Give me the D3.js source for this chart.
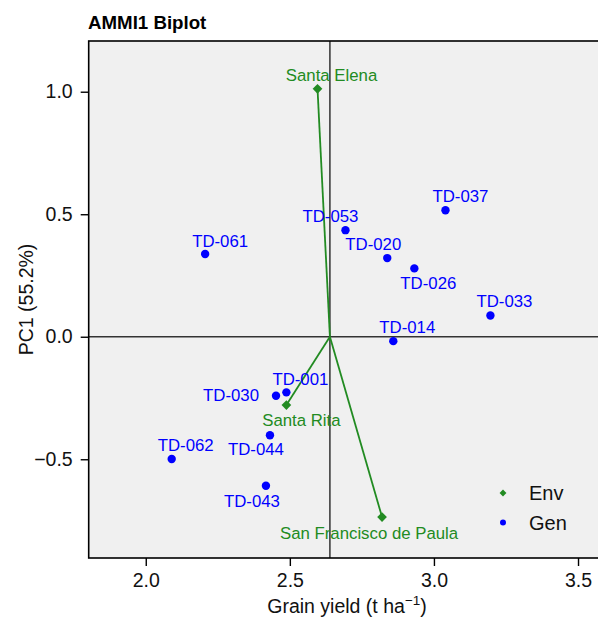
<!DOCTYPE html>
<html>
<head>
<meta charset="utf-8">
<script src="https://cdn.jsdelivr.net/npm/d3@7"></script>
<style>
  html, body { margin: 0; padding: 0; background: #fff; }
  svg { display: block; font-family: "Liberation Sans", Arial, Helvetica, sans-serif; }
</style>
</head>
<body>
<svg id="chart" width="598" height="619"></svg>
<script>
// Genotypes: mean grain yield (t/ha) and PC1 score
const genNames = ["TD-061", "TD-053", "TD-037", "TD-020", "TD-026", "TD-033", "TD-014",
                  "TD-001", "TD-030", "TD-062", "TD-044", "TD-043"];
const genYield = [2.206, 2.693, 3.040, 2.838, 2.932, 3.196, 2.859,
                  2.488, 2.452, 2.090, 2.431, 2.417];
const genPC1   = [0.338, 0.435, 0.516, 0.321, 0.279, 0.087, -0.018,
                  -0.227, -0.241, -0.499, -0.402, -0.608];

// Environments: mean grain yield (t/ha) and PC1 score
const envNames = ["Santa Elena", "Santa Rita", "San Francisco de Paula"];
const envYield = [2.596, 2.488, 2.820];
const envPC1   = [1.012, -0.279, -0.736];

// Grand mean yield (origin of the environment vectors)
const grandMean = 2.639;

const xTicks = [2.0, 2.5, 3.0, 3.5];
const yTicks = [-0.5, 0.0, 0.5, 1.0];

// Label placement around each point (pixels)
const labelNudge = {
  "TD-061": [15, -13], "TD-053": [-15, -14], "TD-037": [15, -14], "TD-020": [-14, -14],
  "TD-026": [14, 15], "TD-033": [14, -14], "TD-014": [14, -14], "TD-001": [14, -13],
  "TD-030": [-45, -1], "TD-062": [14, -14], "TD-044": [-14, 14], "TD-043": [-14, 15],
  "Santa Elena": [14, -14], "Santa Rita": [15, 15], "San Francisco de Paula": [-13, 16]
};

const GEN_COLOR = "#0000FF";
const ENV_COLOR = "#228B22";

const genData = genNames.map((n, i) => ({ name: n, x: genYield[i], y: genPC1[i] }));
const envData = envNames.map((n, i) => ({ name: n, x: envYield[i], y: envPC1[i] }));

const svg = d3.select("#chart");
const panel = { left: 88.7, right: 600.5, top: 41, bottom: 558 };

const x = d3.scaleLinear().domain([1.802, 3.578]).range([panel.left, panel.right]);
const y = d3.scaleLinear().domain([-0.903, 1.207]).range([panel.bottom, panel.top]);

// Panel background
svg.append("rect")
  .attr("x", panel.left).attr("y", panel.top)
  .attr("width", panel.right - panel.left).attr("height", panel.bottom - panel.top)
  .attr("fill", "#F0F0F0");

// Reference lines: PC1 = 0 and grand mean
svg.append("line")
  .attr("x1", panel.left).attr("x2", panel.right)
  .attr("y1", y(0)).attr("y2", y(0))
  .attr("stroke", "#333").attr("stroke-width", 1.5);
svg.append("line")
  .attr("x1", x(grandMean)).attr("x2", x(grandMean))
  .attr("y1", panel.top).attr("y2", panel.bottom)
  .attr("stroke", "#333").attr("stroke-width", 1.5);

// Environment vectors from the origin
svg.append("g").selectAll("line").data(envData).join("line")
  .attr("x1", x(grandMean)).attr("y1", y(0))
  .attr("x2", d => x(d.x)).attr("y2", d => y(d.y))
  .attr("stroke", ENV_COLOR).attr("stroke-width", 1.8);

// Genotype points
svg.append("g").selectAll("circle").data(genData).join("circle")
  .attr("cx", d => x(d.x)).attr("cy", d => y(d.y)).attr("r", 4.2)
  .attr("fill", GEN_COLOR);

// Environment points (diamonds)
const diamond = d3.symbol().type(d3.symbolDiamond2).size(60);
svg.append("g").selectAll("path").data(envData).join("path")
  .attr("transform", d => `translate(${x(d.x)},${y(d.y)})`)
  .attr("d", diamond)
  .attr("fill", ENV_COLOR);

// Point labels
function addLabels(data, color) {
  svg.append("g").selectAll("text").data(data).join("text")
    .attr("x", d => x(d.x) + labelNudge[d.name][0])
    .attr("y", d => y(d.y) + labelNudge[d.name][1])
    .attr("dy", "0.35em")
    .attr("text-anchor", "middle")
    .attr("font-size", 16.8)
    .attr("fill", color)
    .text(d => d.name);
}
addLabels(genData, GEN_COLOR);
addLabels(envData, ENV_COLOR);

// Panel border
svg.append("rect")
  .attr("x", panel.left).attr("y", panel.top)
  .attr("width", panel.right - panel.left).attr("height", panel.bottom - panel.top)
  .attr("fill", "none").attr("stroke", "#000").attr("stroke-width", 1.6);

// Axes
const xAxis = svg.append("g")
  .attr("transform", `translate(0,${panel.bottom})`)
  .call(d3.axisBottom(x).tickValues(xTicks).tickFormat(d3.format(".1f")).tickSize(8).tickPadding(7));
const yAxis = svg.append("g")
  .attr("transform", `translate(${panel.left},0)`)
  .call(d3.axisLeft(y).tickValues(yTicks).tickFormat(d => d3.format(".1f")(d).replace("-", "\u2212")).tickSize(8).tickPadding(8));

[xAxis, yAxis].forEach(g => {
  g.select(".domain").remove();
  g.selectAll(".tick line").attr("stroke", "#000").attr("stroke-width", 1.4);
  g.selectAll(".tick text").attr("font-size", 19.5).attr("fill", "#111")
    .attr("font-family", "Liberation Sans, Arial, sans-serif");
});

// Axis titles
const xTitle = svg.append("text")
  .attr("x", 347).attr("y", 613)
  .attr("text-anchor", "middle").attr("font-size", 19.5).attr("fill", "#111");
xTitle.append("tspan").text("Grain yield (t ha");
xTitle.append("tspan").attr("dy", -8).attr("font-size", 13.5).text("\u22121");
xTitle.append("tspan").attr("dy", 8).text(")");

svg.append("text")
  .attr("transform", `translate(33,${(panel.top + panel.bottom) / 2}) rotate(-90)`)
  .attr("text-anchor", "middle").attr("font-size", 19.5).attr("fill", "#111")
  .text("PC1 (55.2%)");

// Title
svg.append("text")
  .attr("x", 88).attr("y", 29)
  .attr("font-size", 18.7).attr("font-weight", "bold").attr("fill", "#000")
  .text("AMMI1 Biplot");

// Legend
const legend = svg.append("g").attr("transform", "translate(503,493)");
const legendItems = [
  { label: "Env", color: ENV_COLOR, shape: d3.symbolDiamond2 },
  { label: "Gen", color: GEN_COLOR, shape: d3.symbolCircle }
];
legendItems.forEach((it, i) => {
  const row = legend.append("g").attr("transform", `translate(0,${i * 29.5})`);
  row.append("path").attr("d", d3.symbol().type(it.shape).size(it.shape === d3.symbolCircle ? 28 : 30)).attr("fill", it.color);
  row.append("text").attr("x", 26).attr("dy", "0.35em")
    .attr("font-size", 20).attr("fill", "#111").text(it.label);
});
</script>
</body>
</html>
